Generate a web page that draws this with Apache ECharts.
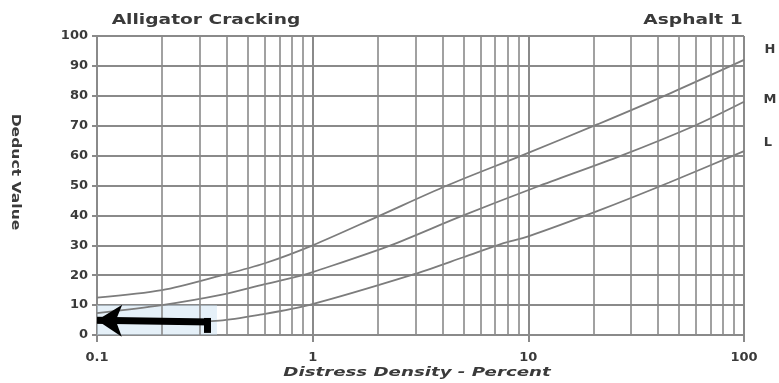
<!DOCTYPE html>
<html>
<head>
<meta charset="utf-8">
<script src="https://cdn.jsdelivr.net/npm/echarts@6/dist/echarts.min.js"></script>
<style>
  html, body { margin: 0; padding: 0; background: #fff; }
  #chart { width: 779px; height: 383px; }
</style>
</head>
<body>
<div id="chart"></div>
<script>
// Deduct value curves, [distress density %, deduct value]
const curveH = [[0.1, 12.5], [0.2, 15], [0.38, 20], [0.6, 24], [1, 30], [2, 39.6], [4.2, 50], [9.3, 60], [21, 70.5], [46, 81], [100, 92]];
const curveM = [[0.1, 7.3], [0.2, 10], [0.38, 13.5], [0.6, 17], [0.9, 20], [1, 21], [2.3, 30], [4.8, 39.5], [10.9, 49.5], [27, 60], [59, 70], [100, 78]];
const curveL = [[0.1, 4], [0.2, 4.2], [0.37, 4.8], [0.57, 6.8], [0.96, 10], [2.86, 20], [5, 26], [7.5, 30.5], [10, 33], [21, 41.5], [45, 51], [100, 61.5]];

// Minor log grid lines between the decades
const minorX = [0.2, 0.3, 0.4, 0.5, 0.6, 0.7, 0.8, 0.9, 2, 3, 4, 5, 6, 7, 8, 9, 20, 30, 40, 50, 60, 70, 80, 90];

// Pointer arrow: shaft from tail to tip, plus the short hook at the tail
const arrowShaft = [[0.336, 4.35], [0.1, 4.9]];
const arrowHook = [[0.323, 5.7], [0.323, 0.7]];
// Lightly shaded corner region
const shadeBox = [[0.1, 0], [0.36, 10]];

const FONT = 'DejaVu Sans';
const GRID = '#8a8a8a';
const CURVE = '#7c7c7c';
const TEXT = '#3a3a3a';

const chart = echarts.init(document.getElementById('chart'), null, { renderer: 'canvas' });

function curve(name, data) {
  return {
    name, type: 'line', data, smooth: 0.3, showSymbol: false, silent: true,
    lineStyle: { color: CURVE, width: 1.8 }, z: 3
  };
}

const centered = { align: 'center', verticalAlign: 'middle', textAlign: 'center', textVerticalAlign: 'middle', fill: TEXT };

chart.setOption({
  animation: false,
  backgroundColor: '#fff',
  grid: { left: 97, right: 35, top: 36, bottom: 48 },
  xAxis: {
    type: 'log', logBase: 10, min: 0.1, max: 100,
    axisLine: { show: true, onZero: false, lineStyle: { color: GRID, width: 2 } },
    axisTick: { show: true, length: 7, lineStyle: { color: GRID, width: 2 } },
    axisLabel: {
      margin: 16, color: TEXT, fontFamily: FONT, fontWeight: 'bold', fontSize: 13,
      formatter: v => String(parseFloat(Number(v).toPrecision(6)))
    },
    splitLine: { show: true, lineStyle: { color: GRID, width: 2 } }
  },
  yAxis: {
    type: 'value', min: 0, max: 100, interval: 10,
    axisLine: { show: true, lineStyle: { color: GRID, width: 2 } },
    axisTick: { show: true, length: 5, lineStyle: { color: GRID, width: 2 } },
    axisLabel: { margin: 9, color: TEXT, fontFamily: FONT, fontWeight: 'bold', fontSize: 13 },
    splitLine: { show: true, lineStyle: { color: GRID, width: 2 } }
  },
  series: [
    {
      name: 'grid', type: 'line', data: [], silent: true, z: 1,
      markLine: {
        silent: true, symbol: ['none', 'none'], label: { show: false },
        lineStyle: { color: GRID, width: 1.6, type: 'solid' },
        data: minorX.map(v => ({ xAxis: v }))
      },
      markArea: {
        silent: true, label: { show: false },
        itemStyle: { color: 'rgba(198,222,240,0.45)' },
        data: [[{ coord: shadeBox[0] }, { coord: shadeBox[1] }]]
      }
    },
    curve('H', curveH),
    curve('M', curveM),
    curve('L', curveL),
    {
      name: 'arrow', type: 'line', data: [], silent: true, z: 10,
      markLine: {
        silent: true, label: { show: false }, animation: false,
        lineStyle: { color: '#000', width: 7, type: 'solid', opacity: 1 },
        data: [
          [{ coord: arrowShaft[0], symbol: 'none' }, { coord: arrowShaft[1], symbol: 'arrow', symbolSize: [24, 25] }],
          [{ coord: arrowHook[0], symbol: 'none' }, { coord: arrowHook[1], symbol: 'none' }]
        ]
      }
    }
  ],
  graphic: [
    { type: 'text', x: 206, y: 20, scaleX: 1.33, silent: true,
      style: Object.assign({ text: 'Alligator Cracking', font: 'bold 14px "DejaVu Sans"' }, centered) },
    { type: 'text', x: 693, y: 20, scaleX: 1.33, silent: true,
      style: Object.assign({ text: 'Asphalt 1', font: 'bold 14px "DejaVu Sans"' }, centered) },
    { type: 'text', x: 417, y: 373, scaleX: 1.4, silent: true,
      style: Object.assign({ text: 'Distress Density - Percent', font: 'italic bold 13px "DejaVu Sans"' }, centered) },
    { type: 'text', x: 15, y: 172, scaleX: 1.2, rotation: -Math.PI / 2, silent: true,
      style: Object.assign({ text: 'Deduct Value', font: 'bold 13px "DejaVu Sans"' }, centered) },
    { type: 'text', x: 770, y: 50, silent: true,
      style: Object.assign({ text: 'H', font: 'bold 13px "DejaVu Sans"' }, centered) },
    { type: 'text', x: 770, y: 100, silent: true,
      style: Object.assign({ text: 'M', font: 'bold 13px "DejaVu Sans"' }, centered) },
    { type: 'text', x: 768, y: 143, silent: true,
      style: Object.assign({ text: 'L', font: 'bold 13px "DejaVu Sans"' }, centered) }
  ]
});
</script>
</body>
</html>
